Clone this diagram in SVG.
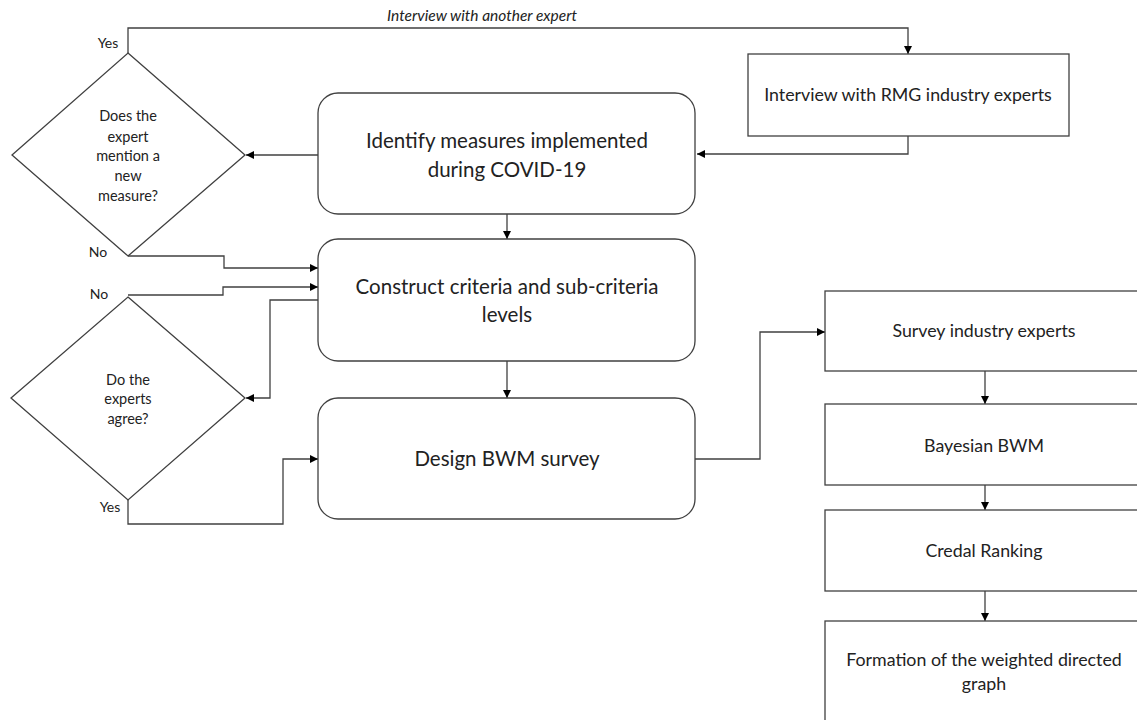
<svg xmlns="http://www.w3.org/2000/svg" width="1137" height="720" viewBox="0 0 1137 720">
<defs>
<marker id="arr" viewBox="0 0 10 10" refX="10" refY="5" markerWidth="8" markerHeight="8" markerUnits="userSpaceOnUse" orient="auto">
<path d="M0,0 L10,5 L0,10 z" fill="#000"/>
</marker>
<style>
.shape{fill:#fff;stroke:#404040;stroke-width:1.3}
.conn{fill:none;stroke:#404040;stroke-width:1.3;marker-end:url(#arr)}
text{font-family:Lato,"Open Sans","Liberation Sans",sans-serif;fill:#222;text-anchor:middle}
.big{font-size:20.5px}
.med{font-size:17.8px}
.sm{font-size:14.5px}
.lbl{font-size:14px}
.it{font-size:15.5px;font-style:italic}
</style>
</defs>
<rect width="1137" height="720" fill="#fff"/>

<g id="connectors">
<polyline class="conn" points="128,53 128,28 908,28 908,54"/>
<polyline class="conn" points="908,136 908,154 697,154"/>
<polyline class="conn" points="318,155 246,155"/>
<polyline class="conn" points="507,214 507,239"/>
<polyline class="conn" points="128,256 224,256 224,268 318,268"/>
<polyline class="conn" points="128,295 223,295 223,287 318,287"/>
<polyline class="conn" points="318,300 270,300 270,398 246,398"/>
<polyline class="conn" points="507,361 507,398"/>
<polyline class="conn" points="128,500 128,524 283,524 283,459 318,459"/>
<polyline class="conn" points="695,459 760,459 760,332 825,332"/>
<polyline class="conn" points="985,371 985,404"/>
<polyline class="conn" points="985,485 985,510"/>
<polyline class="conn" points="985,591 985,621"/>
<text class="it" x="482" y="21">Interview with another expert</text>
<text class="lbl" x="108" y="48">Yes</text>
<text class="lbl" x="98" y="257">No</text>
<text class="lbl" x="99" y="299">No</text>
<text class="lbl" x="110" y="512">Yes</text>
</g>

<g id="interview">
<rect class="shape" x="748" y="54" width="321" height="82"/>
<text class="med" x="908" y="101">Interview with RMG industry experts</text>
</g>

<g id="identify">
<rect class="shape" x="318" y="93" width="377" height="121" rx="20" ry="20"/>
<text class="big" x="507" y="148">Identify measures implemented</text>
<text class="big" x="507" y="177">during COVID-19</text>
</g>

<g id="decision1">
<polygon class="shape" points="128,53 245,155 128,256 12,155"/>
<text class="sm" x="128" y="121">Does the</text>
<text class="sm" x="128" y="142">expert</text>
<text class="sm" x="128" y="161">mention  a</text>
<text class="sm" x="128" y="181">new</text>
<text class="sm" x="128" y="201">measure?</text>
</g>

<g id="construct">
<rect class="shape" x="318" y="239" width="377" height="122" rx="20" ry="20"/>
<text class="big" x="507" y="294">Construct criteria and sub-criteria</text>
<text class="big" x="507" y="322">levels</text>
</g>

<g id="decision2">
<polygon class="shape" points="128,297 245,398 128,500 11,398"/>
<text class="sm" x="128" y="385">Do the</text>
<text class="sm" x="128" y="404">experts</text>
<text class="sm" x="128" y="424">agree?</text>
</g>

<g id="design">
<rect class="shape" x="318" y="398" width="377" height="121" rx="20" ry="20"/>
<text class="big" x="507" y="466">Design BWM survey</text>
</g>

<g id="survey">
<rect class="shape" x="825" y="291" width="330" height="80"/>
<text class="med" x="984" y="337">Survey industry experts</text>
</g>

<g id="bayesian">
<rect class="shape" x="825" y="404" width="330" height="81"/>
<text class="med" x="984" y="452">Bayesian BWM</text>
</g>

<g id="credal">
<rect class="shape" x="825" y="510" width="330" height="81"/>
<text class="med" x="984" y="557">Credal Ranking</text>
</g>

<g id="formation">
<rect class="shape" x="825" y="621" width="330" height="120"/>
<text class="med" x="984" y="666">Formation of the weighted directed</text>
<text class="med" x="984" y="690">graph</text>
</g>
</svg>
